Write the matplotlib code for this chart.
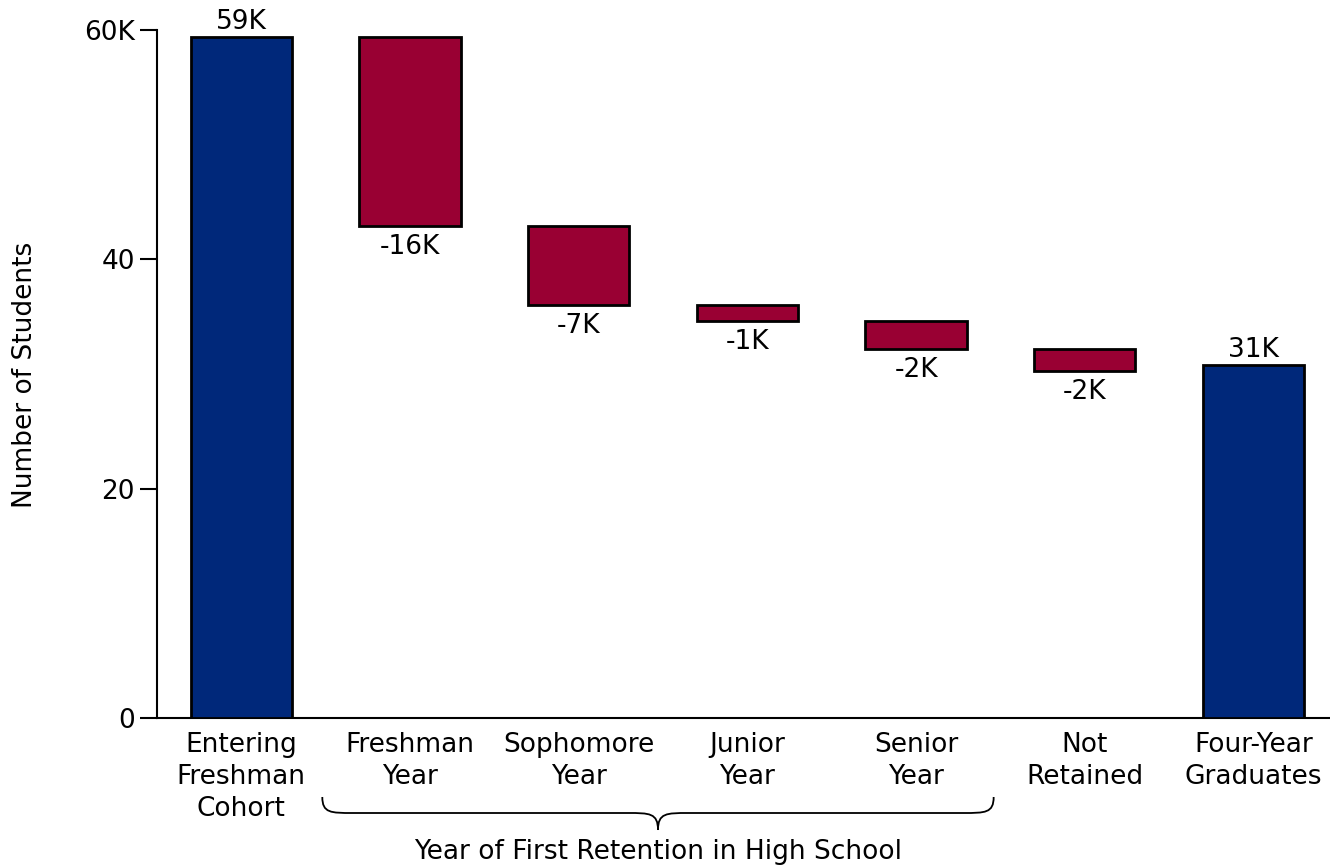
import matplotlib
matplotlib.use("Agg")
import matplotlib.pyplot as plt
from matplotlib.path import Path
from matplotlib.patches import PathPatch
import matplotlib.transforms as mtransforms

categories = ["Entering\nFreshman\nCohort", "Freshman\nYear", "Sophomore\nYear",
              "Junior\nYear", "Senior\nYear", "Not\nRetained", "Four-Year\nGraduates"]
start_total = 59.4
drops = [16.5, 6.9, 1.4, 2.4, 1.9]
end_total = 30.8
yticks = [0, 20, 40, 60]
yticklabels = ["0", "20", "40", "60K"]

blue = "#00287A"
red = "#990033"

fig = plt.figure(figsize=(13.3, 8.67), dpi=100)
ax = fig.add_axes([157/1330, 1 - 718/867, 1 - 157/1330 - 0.0005, (718 - 30)/867])

fs = 19
bw = 0.6
ec = "black"
lw = 2

# start bar
ax.bar(0, start_total, width=bw, color=blue, edgecolor=ec, linewidth=lw, zorder=3)
ax.text(0, start_total + 0.2, f"{round(start_total)}K", ha="center", va="bottom", fontsize=fs)

level = start_total
for i, d in enumerate(drops, start=1):
    bottom = level - d
    ax.bar(i, d, bottom=bottom, width=bw, color=red, edgecolor=ec, linewidth=lw, zorder=3)
    ax.text(i, bottom - 0.7, f"-{round(d)}K", ha="center", va="top", fontsize=fs)
    level = bottom

n = len(categories) - 1
ax.bar(n, end_total, width=bw, color=blue, edgecolor=ec, linewidth=lw, zorder=3)
ax.text(n, end_total + 0.2, f"{round(end_total)}K", ha="center", va="bottom", fontsize=fs)

ax.set_xlim(-0.5, 6.45)
ax.set_ylim(0, 60)
ax.set_yticks(yticks)
ax.set_yticklabels(yticklabels, fontsize=fs)
ax.set_xticks(range(len(categories)))
ax.set_xticklabels(categories, fontsize=fs, linespacing=1.3)
ax.tick_params(axis="x", length=0, pad=10)
ax.tick_params(axis="y", length=12, width=1.5, pad=4)
for s in ["top", "right"]:
    ax.spines[s].set_visible(False)
for s in ["left", "bottom"]:
    ax.spines[s].set_linewidth(1.5)
fig.text(25/1330, 1 - 375/867, "Number of Students", rotation=90,
         ha="center", va="center", fontsize=fs)

# brace under years 1-4
trans = mtransforms.blended_transform_factory(ax.transData, fig.transFigure)
x0, x1 = 0.48, 4.46
xm = (x0 + x1) / 2
yt = 1 - 797/867
yc = 1 - 813/867
yb = 1 - 830/867
r = 0.18
codes = [Path.MOVETO, Path.CURVE4, Path.CURVE4, Path.CURVE4,
         Path.LINETO, Path.CURVE4, Path.CURVE4, Path.CURVE4,
         Path.MOVETO, Path.CURVE4, Path.CURVE4, Path.CURVE4,
         Path.LINETO, Path.CURVE4, Path.CURVE4, Path.CURVE4]
verts = [
    (x0, yt),
    (x0, yc), (x0 + 0.05, yc), (x0 + r, yc),
    (xm - r, yc),
    (xm - 0.05, yc), (xm, yc), (xm, yb),
    (xm, yb),
    (xm, yc), (xm + 0.05, yc), (xm + r, yc),
    (x1 - r, yc),
    (x1 - 0.05, yc), (x1, yc), (x1, yt),
]
patch = PathPatch(Path(verts, codes), facecolor="none", edgecolor="black",
                  linewidth=1.3, transform=trans, clip_on=False)
fig.add_artist(patch)
fig.text(ax.transData.transform((xm, 0))[0] / fig.bbox.width, 1 - 852/867,
         "Year of First Retention in High School", ha="center", va="center", fontsize=fs)

fig.savefig("out.png", dpi=100)
